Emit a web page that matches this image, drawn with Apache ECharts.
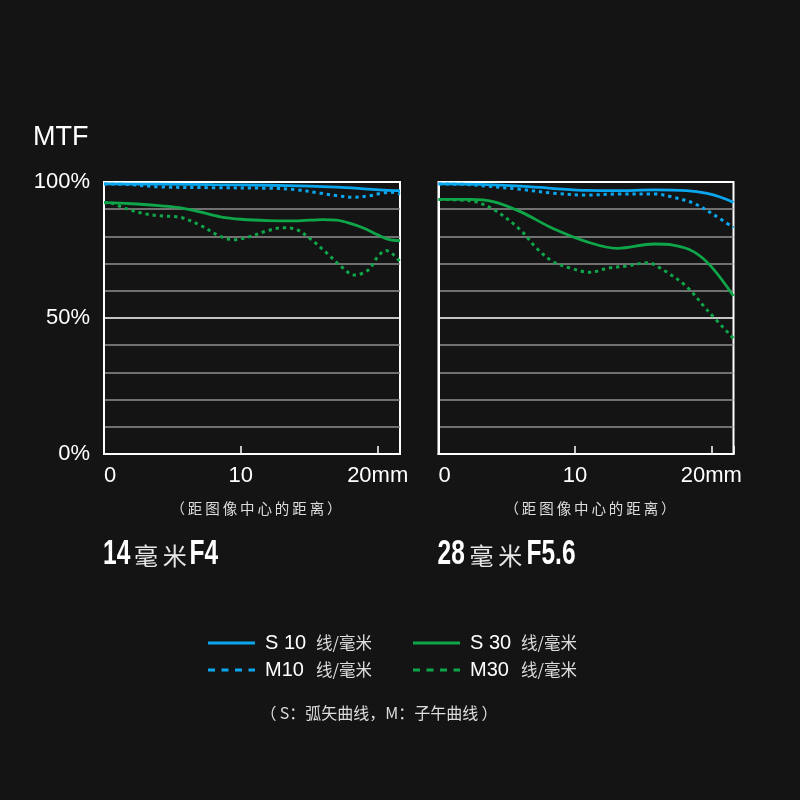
<!DOCTYPE html>
<html><head><meta charset="utf-8">
<script src="https://cdn.jsdelivr.net/npm/echarts@6/dist/echarts.min.js"></script>
<style>html,body{margin:0;padding:0;background:#141414;}#c{width:800px;height:800px;}</style>
</head><body><div id="c"></div>
<script>
// ---- data (mm from image centre, MTF %) ----
const xTicks = [0, 10, 20];
const xMax = 21.63;
const yLabels = { 0: '0%', 50: '50%', 100: '100%' };
const seriesNames = ['S 10', 'M10', 'S 30', 'M30'];
const lensTitles = [['14', '毫米', 'F4'], ['28', '毫米', 'F5.6']];

const S10_14 = [[0,99.3],[4,99.2],[8,99.0],[12,98.8],[15,98.5],[17,98.1],[19,97.5],[20.5,97.0],[21.63,96.8]];
const M10_14 = [[0,99.3],[2,99.0],[4,98.2],[8,97.9],[12,97.7],[14,97.2],[15.8,95.9],[17,95.0],[18.3,94.4],[19.5,95.0],[20.3,95.9],[21,96.2],[21.63,95.6]];
const S30_14 = [[0,92.4],[2,92.0],[4,91.3],[5.5,90.6],[7,89.0],[8.5,87.2],[10,86.3],[12,85.8],[14,85.7],[16,86.2],[17,86.0],[18,84.8],[19,83.0],[20,80.6],[20.8,78.9],[21.63,78.4]];
const M30_14 = [[0,92.4],[0.6,92.2],[1.2,91.0],[2,89.6],[3.1,88.2],[4,87.6],[5.1,87.3],[5.8,86.7],[7,84.2],[8.5,80.0],[9.5,78.8],[10.5,79.7],[11.9,82.0],[13.1,83.2],[14.1,82.5],[15.1,79.0],[16.3,73.8],[17.3,69.1],[18.3,65.8],[19.3,67.6],[20,72.5],[20.6,74.8],[21.1,73.5],[21.63,70.7]];

const S10_28 = [[0,99.3],[3,99.1],[6,98.5],[8.5,97.6],[10.9,96.9],[13,96.8],[15.8,97.1],[18.2,96.8],[19.7,95.8],[20.7,94.4],[21.63,92.5]];
const M10_28 = [[0,99.3],[2,99.1],[3.5,98.5],[6,97.3],[8.4,95.9],[10.9,95.2],[13.3,95.6],[15.8,95.6],[17.2,94.4],[18.7,92.2],[20.2,87.9],[21.63,83.2]];
const S30_28 = [[0,93.6],[2.3,93.6],[4,92.8],[6,89.1],[8.4,82.9],[10.9,78.0],[13.1,75.6],[15.8,77.2],[17.2,76.8],[18.7,74.4],[20,68.9],[21.63,58.1]];
const M30_28 = [[0,93.6],[2.3,93.1],[4,90.0],[6,82.4],[7.2,75.6],[8.4,70.7],[9.7,68.3],[11.1,66.8],[12.4,68.3],[13.8,69.1],[15.3,70.3],[16.5,67.6],[18.2,61.5],[19.7,52.9],[21.63,42.5]];

const BLUE = '#0aa6ee', GREEN = '#0fa64a';
const FONT = "'Liberation Sans', Arial, 'Noto Sans CJK SC', sans-serif";
const CJK = "'Noto Sans CJK SC', sans-serif";
const BOLD = "'Liberation Sans', Arial, sans-serif";

const grids = [
  { left: 104, top: 182, width: 296, height: 272 },
  { left: 438.5, top: 182, width: 295, height: 272 }
];
const gridColors = ['#fff','#909090','#909090','#909090','#909090','#fff','#909090','#909090','#909090','#909090','#fff'];

function xAxis(i) {
  return {
    gridIndex: i, type: 'value', min: 0, max: xMax, interval: 10,
    axisLine: { show: true, lineStyle: { color: '#fff', width: 2 } },
    axisTick: { show: true, inside: true, length: 8, lineStyle: { color: '#fff', width: 1.5 } },
    splitLine: { show: false },
    axisLabel: {
      color: '#fff', fontSize: 22, fontFamily: FONT, margin: 11, alignMinLabel: 'left',
      formatter: v => (xTicks.indexOf(v) < 0 ? '' : (v === 20 ? '20mm' : String(v)))
    },
    name: '（\u2009距\u2009图\u2009像\u2009中\u2009心\u2009的\u2009距\u2009离\u2009）',
    nameLocation: 'middle', nameGap: 47,
    nameTextStyle: { color: '#ddd', fontSize: 14.5, fontFamily: CJK, padding: [0, 0, 0, 8] }
  };
}
function yAxis(i) {
  return {
    gridIndex: i, type: 'value', min: 0, max: 100, interval: 10,
    axisLine: { show: true, lineStyle: { color: '#fff', width: 2 } },
    axisTick: { show: false },
    splitLine: { show: true, lineStyle: { color: gridColors, width: 1.6 } },
    axisLabel: {
      show: i === 0, color: '#fff', fontSize: 22, fontFamily: FONT, margin: 14,
      formatter: v => yLabels[v] || ''
    }
  };
}
function line(name, data, gi, color, dotted) {
  return {
    type: 'line', name, data, xAxisIndex: gi, yAxisIndex: gi,
    symbol: 'none', smooth: 0.35,
    lineStyle: { color, width: dotted ? 3 : 2.8, type: dotted ? [3.3, 3.9] : 'solid', cap: 'butt' },
    itemStyle: { color },
    z: color === BLUE ? 4 : 3
  };
}

const legendRich = {
  a: { fontSize: 20, color: '#fff', fontFamily: FONT, width: 51, padding: [0, 0, 0, 5] },
  b: { fontSize: 16.5, color: '#ddd', fontFamily: CJK }
};
function legend(left, names, color) {
  return {
    left, top: 631, orient: 'vertical', itemWidth: 47, itemHeight: 14, itemGap: 3,
    padding: 0, selectedMode: false,
    itemStyle: { opacity: 0 },
    data: [
      { name: names[0], itemStyle: { opacity: 0 }, lineStyle: { color, width: 3, type: 'solid', opacity: 1 } },
      { name: names[1], itemStyle: { opacity: 0 }, lineStyle: { color, width: 3, type: [7, 6.5], opacity: 1 } }
    ],
    formatter: n => '{a|' + n + '}{b|线/毫米}',
    textStyle: { lineHeight: 24, rich: legendRich }
  };
}
function titleGraphics(i, xs) {
  const t = lensTitles[i];
  const num = (text, x) => ({
    type: 'text', x, y: 554, scaleX: 0.7,
    style: { text, fill: '#fff', font: 'bold 35px ' + BOLD, verticalAlign: 'middle', align: 'left' }
  });
  return [
    num(t[0], xs[0]),
    { type: 'text', x: xs[1], y: 556, style: { text: t[1].split('').join('\u2009'), fill: '#e6e6e6', font: '24px ' + CJK, verticalAlign: 'middle', align: 'left' } },
    num(t[2], xs[2])
  ];
}

const chart = echarts.init(document.getElementById('c'));
chart.setOption({
  backgroundColor: '#141414',
  animation: false,
  grid: grids.map(g => Object.assign({ show: true, borderColor: '#fff', borderWidth: 2, backgroundColor: 'transparent' }, g)),
  xAxis: [xAxis(0), xAxis(1)],
  yAxis: [yAxis(0), yAxis(1)],
  legend: [legend(206.5, [seriesNames[0], seriesNames[1]], BLUE), legend(411.5, [seriesNames[2], seriesNames[3]], GREEN)],
  graphic: [
    { type: 'text', left: 33, top: 124, style: { text: 'MTF', fill: '#fff', font: '27px ' + FONT } },
    { type: 'text', x: 379, y: 713, style: { text: '（\u2009S：弧矢曲线，M：子午曲线\u2009）', fill: '#ddd', font: '16px ' + CJK, align: 'center', verticalAlign: 'middle' } }
  ].concat(titleGraphics(0, [103, 134, 189.5]), titleGraphics(1, [437.5, 469.5, 526.5])),
  series: [
    line(seriesNames[2], S30_14, 0, GREEN, false),
    line(seriesNames[3], M30_14, 0, GREEN, true),
    line(seriesNames[0], S10_14, 0, BLUE, false),
    line(seriesNames[1], M10_14, 0, BLUE, true),
    line(seriesNames[2], S30_28, 1, GREEN, false),
    line(seriesNames[3], M30_28, 1, GREEN, true),
    line(seriesNames[0], S10_28, 1, BLUE, false),
    line(seriesNames[1], M10_28, 1, BLUE, true)
  ]
});
</script></body></html>
